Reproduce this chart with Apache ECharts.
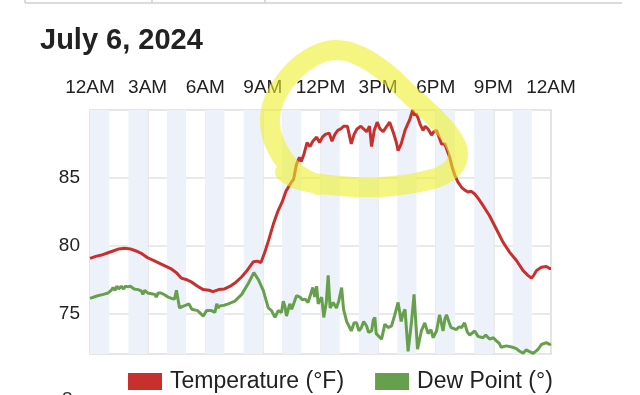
<!DOCTYPE html>
<html>
<head>
<meta charset="utf-8">
<script src="https://cdn.jsdelivr.net/npm/echarts@6/dist/echarts.min.js"></script>
<style>
html,body{margin:0;padding:0;background:#fff;}
#c{width:640px;height:395px;}
</style>
</head>
<body>
<div id="c"></div>
<script>
const xTickLabels = ['12AM','3AM','6AM','9AM','12PM','3PM','6PM','9PM','12AM'];
const yTickValues = [75, 80, 85];

const tempHours = [0.0,0.3,0.6,0.9,1.2,1.5,1.8,2.1,2.4,2.7,3.0,3.3,3.6,3.9,4.2,4.5,4.75,5.0,5.3,5.6,5.9,6.2,6.4,6.7,7.0,7.3,7.6,7.9,8.2,8.5,8.7,8.9,9.1,9.3,9.55,9.8,10.0,10.2,10.45,10.6,10.75,10.9,11.0,11.15,11.3,11.45,11.6,11.8,11.95,12.1,12.25,12.45,12.6,12.75,12.9,13.05,13.2,13.4,13.6,13.75,13.9,14.1,14.25,14.4,14.55,14.66,14.8,14.95,15.1,15.26,15.45,15.6,15.8,15.95,16.04,16.2,16.4,16.55,16.65,16.8,16.9,16.98,17.08,17.2,17.34,17.45,17.6,17.78,17.9,18.04,18.2,18.3,18.47,18.6,18.73,18.85,18.99,19.15,19.34,19.5,19.68,19.85,20.03,20.2,20.46,20.8,21.16,21.5,21.85,22.2,22.55,22.8,22.98,23.1,23.24,23.5,23.76,23.93,24.0];
const tempValues = [79.05,79.2,79.3,79.45,79.6,79.75,79.8,79.75,79.6,79.4,79.1,78.9,78.7,78.5,78.3,78.0,77.6,77.5,77.3,77.0,76.75,76.7,76.6,76.75,76.8,77.0,77.3,77.7,78.2,78.8,78.85,78.75,79.5,80.4,81.6,82.6,83.2,84.0,84.6,84.9,86.0,86.5,86.2,86.8,87.6,87.3,87.7,88.0,87.6,88.0,88.2,88.3,87.7,88.2,88.5,88.6,88.8,88.8,87.5,88.2,88.6,88.8,88.6,88.4,88.8,87.3,88.5,89.1,88.6,88.4,88.8,89.1,88.3,87.6,87.0,87.5,88.5,89.0,89.3,90.0,89.6,89.75,89.4,88.9,88.5,88.8,88.6,88.15,88.4,88.5,87.9,87.5,87.5,87.0,86.5,85.8,85.2,84.7,84.3,84.1,83.95,84.0,83.8,83.5,82.96,82.2,81.2,80.25,79.5,78.9,78.15,77.8,77.6,77.8,78.15,78.4,78.45,78.3,78.3];

const dewHours = [0.0,0.4,0.7,0.94,1.1,1.2,1.3,1.4,1.5,1.63,1.75,1.85,1.98,2.1,2.3,2.5,2.67,2.75,2.85,3.0,3.2,3.37,3.45,3.55,3.7,3.9,4.06,4.25,4.4,4.5,4.55,4.66,4.8,5.0,5.15,5.3,5.6,5.9,6.07,6.33,6.5,6.6,6.68,6.76,7.0,7.2,7.54,7.9,8.24,8.53,8.76,9.02,9.28,9.45,9.63,9.8,9.97,10.06,10.15,10.23,10.4,10.5,10.58,10.75,10.93,11.05,11.2,11.35,11.45,11.6,11.7,11.8,11.88,12.06,12.17,12.3,12.4,12.5,12.66,12.83,12.95,13.1,13.2,13.36,13.5,13.6,13.75,13.88,14.0,14.13,14.25,14.4,14.5,14.66,14.75,14.83,14.9,15.0,15.18,15.35,15.52,15.7,15.87,16.04,16.2,16.3,16.4,16.56,16.74,16.87,17.05,17.25,17.43,17.6,17.75,17.86,18.04,18.2,18.38,18.48,18.56,18.7,18.8,19.08,19.2,19.34,19.5,19.65,19.77,20.03,20.2,20.46,20.6,20.8,21.0,21.16,21.3,21.4,21.68,22.0,22.2,22.37,22.55,22.7,22.8,23.07,23.2,23.33,23.5,23.76,23.93,24.0];
const dewValues = [76.1,76.3,76.4,76.5,76.7,76.9,76.7,77.0,76.8,77.0,76.8,77.0,76.95,77.0,76.8,76.75,76.65,76.4,76.7,76.5,76.45,76.4,76.2,76.5,76.5,76.35,76.2,76.1,76.05,76.7,76.8,75.4,75.5,75.6,75.7,75.3,75.2,74.8,75.2,75.2,75.06,75.7,75.4,75.55,75.6,75.7,75.9,76.4,77.2,78.0,77.5,76.7,75.4,75.2,74.7,75.2,75.06,75.9,75.5,74.8,75.7,75.3,75.4,76.3,76.2,76.0,76.05,75.8,75.9,76.9,76.2,77.0,75.7,76.2,74.7,75.8,77.8,75.4,75.8,75.4,75.9,76.9,75.3,74.4,74.0,73.7,74.3,74.3,73.7,73.95,74.4,74.07,73.6,73.7,74.5,74.7,73.5,73.5,73.1,74.2,73.95,74.07,74.9,75.8,74.4,75.0,75.3,72.2,74.4,76.4,72.35,73.7,74.3,73.5,73.8,73.2,73.7,74.9,73.7,74.6,74.9,74.3,73.95,73.8,74.0,73.95,74.3,73.6,73.4,73.7,73.3,73.2,73.4,73.1,73.2,72.96,72.8,72.5,72.6,72.5,72.4,72.2,72.05,72.3,72.2,72.05,72.2,72.35,72.7,72.84,72.7,72.75];

const zip = (a, b) => a.map((v, i) => [v, b[i]]);
const FONT = '"Liberation Sans", Arial, Helvetica, sans-serif';

const chart = echarts.init(document.getElementById('c'), null, {renderer: 'canvas'});
chart.setOption({
  animation: false,
  backgroundColor: '#ffffff',
  title: {
    text: 'July 6, 2024', left: 35, top: 21,
    textStyle: {fontFamily: FONT, fontSize: 29, fontWeight: 'bold', color: '#222'}
  },
  grid: {left: 90, right: 89, top: 110, bottom: 41, show: true, borderColor: '#dedede', borderWidth: 1.5, backgroundColor: 'transparent'},
  legend: {
    left: 128, top: 370, padding: 0, itemWidth: 34, itemHeight: 17, itemGap: 31, icon: 'rect',
    textStyle: {fontFamily: FONT, fontSize: 23, color: '#222', padding: [0, 0, 0, 3]},
    data: ['Temperature (°F)', 'Dew Point (°)']
  },
  xAxis: [{
    type: 'value', position: 'top', min: 0, max: 24, interval: 3,
    axisLine: {show: false}, axisTick: {show: false},
    axisLabel: {margin: 13, fontFamily: FONT, fontSize: 19, color: '#222',
      formatter: v => xTickLabels[Math.round(v / 3)]},
    splitLine: {show: true, lineStyle: {color: '#e3e3e3', width: 1.5}}
  }, {
    type: 'value', position: 'bottom', min: 0, max: 24, interval: 1,
    axisLine: {show: false}, axisTick: {show: false}, axisLabel: {show: false},
    splitLine: {show: false},
    splitArea: {show: true, areaStyle: {color: ['#edf2fa', 'rgba(255,255,255,0)']}}
  }],
  yAxis: {
    type: 'value', min: 72, max: 90,
    axisLine: {show: false},
    axisTick: {show: false, customValues: yTickValues},
    axisLabel: {customValues: yTickValues, margin: 10, fontFamily: FONT, fontSize: 19, color: '#222'},
    splitLine: {show: true, lineStyle: {color: '#e3e3e3', width: 1.5}}
  },
  series: [{
    name: 'Temperature (°F)', type: 'line', xAxisIndex: 0, showSymbol: false, symbol: 'none',
    data: zip(tempHours, tempValues), color: '#c8302e',
    lineStyle: {width: 3, color: '#c8302e'}, z: 3
  }, {
    name: 'Dew Point (°)', type: 'line', xAxisIndex: 0, showSymbol: false, symbol: 'none',
    data: zip(dewHours, dewValues), color: '#67a04d', clip: false,
    lineStyle: {width: 3, color: '#67a04d'}, z: 2
  }],
  graphic: [
    {type: 'line', shape: {x1: 25, y1: 3, x2: 622, y2: 3}, style: {stroke: '#cfcfcf', lineWidth: 1.5}},
    {type: 'line', shape: {x1: 25, y1: 0, x2: 25, y2: 3}, style: {stroke: '#cfcfcf', lineWidth: 1.5}},
    {type: 'line', shape: {x1: 152, y1: 0, x2: 152, y2: 3}, style: {stroke: '#cfcfcf', lineWidth: 1.5}},
    {type: 'line', shape: {x1: 265, y1: 0, x2: 265, y2: 3}, style: {stroke: '#cfcfcf', lineWidth: 1.5}},
    {type: 'text', left: 62, top: 390, style: {text: '8', fontFamily: FONT, fontSize: 19, fill: '#333'}},
    {type: 'polyline', z: 100,
      shape: {smooth: 0.4, points: [[318,185],[295,172],[278,150],[270,125],[274,100],[290,75],[312,57],[335,50],[360,56],[385,72],[410,95],[435,118],[452,138],[458,156],[448,172],[420,182],[380,187],[340,186],[300,180],[285,172]]},
      style: {stroke: 'rgba(238,240,40,0.58)', lineWidth: 20, fill: null, lineCap: 'round', lineJoin: 'round'}}
  ]
});
</script>
</body>
</html>
